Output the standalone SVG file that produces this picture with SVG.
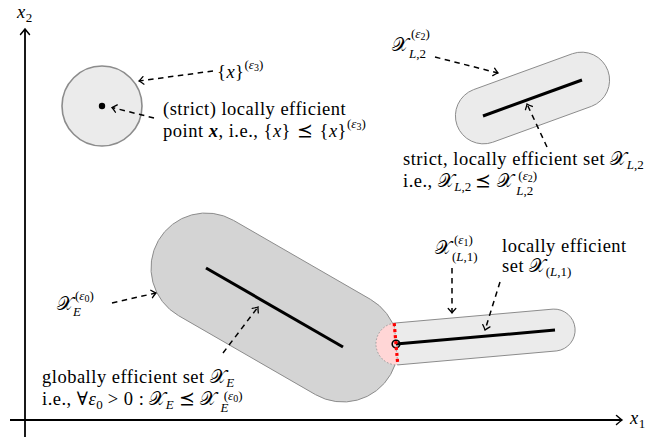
<svg xmlns="http://www.w3.org/2000/svg" width="665" height="437" viewBox="0 0 665 437">
<defs>
<style>
.t{font-family:"Liberation Serif","DejaVu Serif",serif;font-size:18.5px;fill:#000;letter-spacing:0.5px}
.m{font-style:italic}
.s{font-size:13px;letter-spacing:0}
.ss{font-size:10px}
.cal{font-family:"DejaVu Serif","DejaVu Sans","Liberation Serif",serif;font-style:normal}
.dash{fill:none;stroke:#000;stroke-width:1.5;stroke-dasharray:5.5 4.5;marker-end:url(#ah)}
.axis{fill:none;stroke:#000;stroke-width:1.8;marker-end:url(#axh)}
.seg{stroke:#000;stroke-width:3;fill:none}
.region{stroke:#8c8c8c;stroke-width:1}
</style>
<marker id="ah" viewBox="-6 -5 8 10" refX="0" refY="0" markerWidth="8" markerHeight="10" orient="auto" markerUnits="userSpaceOnUse">
<path d="M-4.5,-3.8 Q-1.8,-1.2 0,0 Q-1.8,1.2 -4.5,3.8" fill="none" stroke="#000" stroke-width="1.3" stroke-linecap="round"/>
</marker>
<marker id="axh" viewBox="-8 -6 10 12" refX="0" refY="0" markerWidth="10" markerHeight="12" orient="auto" markerUnits="userSpaceOnUse">
<path d="M-5.5,-4.5 Q-2,-1.5 0,0 Q-2,1.5 -5.5,4.5" fill="none" stroke="#000" stroke-width="1.5" stroke-linecap="round"/>
</marker>
</defs>
<rect width="665" height="437" fill="#fff"/>

<g id="axes">
<path class="axis" d="M10,420 L622,420"/>
<path class="axis" d="M25,437 L25,29"/>
<text class="t m" x="17" y="18">x<tspan class="s" dy="4" font-style="normal">2</tspan></text>
<text class="t m" x="630" y="424">x<tspan class="s" dy="4" font-style="normal">1</tspan></text>
</g>

<g id="global-set">
<path class="region" fill="#d4d4d4" d="M233.48,220.35 L370.48,299.35 A55,55 0 0 1 315.52,394.65 L178.52,315.65 A55,55 0 0 1 233.48,220.35 Z"/>
<path class="seg" d="M206,268 L343,347"/>
</g>

<g id="local-set-1">
<path fill="#ebebeb" d="M394.2,323.1 L553.15,309.1 A21,21 0 0 1 556.85,350.9 L397.8,364.9 Z"/>
<path class="region" fill="none" d="M394.2,323.1 L553.15,309.1 A21,21 0 0 1 556.85,350.9 L397.8,364.9"/>
<path fill="#ffd6d6" stroke="#9a9a9a" stroke-width="1" stroke-dasharray="1.5 2" d="M394.2,323.1 A21,21 0 0 0 397.8,364.9 Z"/>
<path class="seg" d="M396,344 L555,330"/>
<circle cx="396" cy="344" r="3.8" fill="none" stroke="#000" stroke-width="1.6"/>
<path d="M394.2,323.1 L397.8,364.9" stroke="#ff0000" stroke-width="3.2" stroke-dasharray="3 3" fill="none"/>
</g>

<g id="local-set-2">
<path class="region" fill="#ebebeb" d="M473.43,89.69 L572.43,53.69 A28,28 0 0 1 591.57,106.31 L492.57,142.31 A28,28 0 0 1 473.43,89.69 Z"/>
<path class="seg" d="M483,116 L582,80"/>
</g>

<g id="point">
<circle cx="102" cy="106" r="40" fill="#ebebeb" stroke="#8c8c8c" stroke-width="1.6"/>
<circle cx="102" cy="106" r="3.2" fill="#000"/>
</g>

<g id="connectors">
<path class="dash" d="M213,71 L139,81"/>
<path class="dash" d="M154,118 L112,107.5"/>
<path class="dash" d="M435,57 L498,73"/>
<path class="dash" d="M547,147 L527,104"/>
<path class="dash" d="M112,303 L156,293"/>
<path class="dash" d="M223,353 L258,307"/>
<path class="dash" d="M452,268 L452,313"/>
<path class="dash" d="M500,282 L485,330"/>
</g>

<g id="label-point">
<text class="t" x="217" y="78">{<tspan class="m">x</tspan>}<tspan class="s" dy="-9">(<tspan class="m">ε</tspan><tspan class="ss" dy="2">3</tspan><tspan dy="-2">)</tspan></tspan></text>
<text class="t" x="163" y="115">(strict) locally efficient</text>
<text class="t" x="163" y="137">point <tspan font-weight="bold" font-style="italic">x</tspan>, i.e., {<tspan class="m">x</tspan>}<tspan dx="6">⪯</tspan><tspan dx="6">{</tspan><tspan class="m">x</tspan>}<tspan class="s" dy="-9">(<tspan class="m">ε</tspan><tspan class="ss" dy="2">3</tspan><tspan dy="-2">)</tspan></tspan></text>
</g>

<g id="label-set-2">
<text class="t" x="392" y="51"><tspan class="cal">𝒳</tspan></text>
<text class="t s" x="411" y="38">(<tspan class="m">ε</tspan><tspan class="ss" dy="2">2</tspan><tspan dy="-2">)</tspan></text>
<text class="t s" x="409" y="58"><tspan class="m">L</tspan>,2</text>
<text class="t" x="403" y="165">strict, locally efficient set <tspan class="cal">𝒳</tspan><tspan class="s" dy="4"><tspan class="m">L</tspan>,2</tspan></text>
<text class="t" x="403" y="187">i.e., <tspan class="cal">𝒳</tspan><tspan class="s" dy="4"><tspan class="m">L</tspan>,2</tspan><tspan dy="-4" dx="4">⪯</tspan><tspan dx="5" class="cal">𝒳</tspan><tspan class="s" dy="-7" dx="5">(<tspan class="m">ε</tspan><tspan class="ss" dy="2">2</tspan><tspan dy="-2">)</tspan></tspan><tspan class="s" dx="-21" dy="15"><tspan class="m">L</tspan>,2</tspan></text>
</g>

<g id="label-set-1">
<text class="t" x="435" y="254"><tspan class="cal">𝒳</tspan></text>
<text class="t s" x="454" y="244">(<tspan class="m">ε</tspan><tspan class="ss" dy="2">1</tspan><tspan dy="-2">)</tspan></text>
<text class="t s" x="452" y="261">(<tspan class="m">L</tspan>,1)</text>
<text class="t" x="502" y="252">locally efficient</text>
<text class="t" x="502" y="272">set <tspan class="cal">𝒳</tspan><tspan class="s" dy="4">(<tspan class="m">L</tspan>,1)</tspan></text>
</g>

<g id="label-global">
<text class="t" x="57" y="310"><tspan class="cal">𝒳</tspan></text>
<text class="t s" x="75" y="300">(<tspan class="m">ε</tspan><tspan class="ss" dy="2">0</tspan><tspan dy="-2">)</tspan></text>
<text class="t s m" x="73" y="316">E</text>
<text class="t" x="42" y="383">globally efficient set <tspan class="cal">𝒳</tspan><tspan class="s m" dy="4">E</tspan></text>
<text class="t" x="42" y="405">i.e., ∀<tspan class="m">ε</tspan><tspan class="s" dy="4">0</tspan><tspan dy="-4" dx="5">&gt;</tspan><tspan dx="5">0 :</tspan><tspan dx="5" class="cal">𝒳</tspan><tspan class="s m" dy="4">E</tspan><tspan dy="-4" dx="5">⪯</tspan><tspan dx="5" class="cal">𝒳</tspan><tspan class="s" dy="-5" dx="7">(<tspan class="m">ε</tspan><tspan class="ss" dy="2">0</tspan><tspan dy="-2">)</tspan></tspan><tspan class="s m" dx="-22" dy="12">E</tspan></text>
</g>
</svg>
